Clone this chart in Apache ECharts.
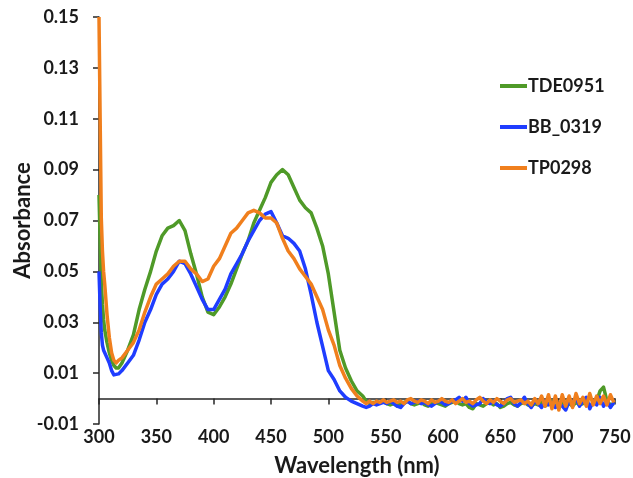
<!DOCTYPE html>
<html><head><meta charset="utf-8">
<script src="https://cdn.jsdelivr.net/npm/echarts@6/dist/echarts.min.js"></script>
<style>html,body{margin:0;padding:0;background:#fff}#c{width:633px;height:478px}</style>
</head><body><div id="c"></div>
<script>
const wavelengths = [300,301,302,303,304,305,307,309,311,313,315,317,
  320,325,330,335,340,345,350,355,360,365,370,375,380,385,390,395,400,405,410,415,420,425,430,435,440,445,450,455,460,465,470,475,480,485,490,495,500,505,510,515,520,525,
  530,533,536,539,542,545,548,551,554,557,560,563,566,569,572,575,578,581,584,587,590,593,596,599,602,605,608,611,614,617,620,623,626,629,632,635,638,641,644,647,650,653,656,659,662,665,668,671,674,677,680,683,686,689,692,695,698,701,704,707,710,713,716,719,722,725,728,731,734,737,740,743,746,749];

const tde0951 = [0.08,0.062,0.046,0.037,0.031,0.027,0.022,0.018,0.015,0.013,0.012,0.012,
  0.014,0.019,0.025,0.035,0.043,0.050,0.058,0.064,0.067,0.068,0.070,0.066,0.057,0.049,0.040,0.034,0.033,0.036,0.040,0.045,0.051,0.057,0.062,0.069,0.074,0.079,0.085,0.088,0.090,0.088,0.083,0.078,0.075,0.073,0.067,0.060,0.049,0.034,0.019,0.012,0.007,0.003,
  0.001,-0.001,-0.002,-0.0015,-0.002,-0.0015,-0.001,-0.002,-0.0025,-0.002,-0.003,-0.002,-0.0015,-0.001,-0.002,-0.0025,-0.002,-0.0015,-0.0025,-0.003,-0.002,-0.0015,-0.002,-0.0025,-0.003,-0.002,-0.0015,-0.001,-0.002,-0.0025,-0.002,-0.0035,-0.004,-0.002,-0.0025,-0.003,-0.002,-0.0015,-0.0025,-0.002,-0.0035,-0.003,-0.002,-0.0015,-0.0025,-0.003,-0.002,-0.0015,-0.0025,-0.003,-0.002,-0.0025,-0.0015,-0.003,-0.002,-0.001,-0.003,-0.002,-0.0015,-0.0025,-0.002,-0.003,-0.0015,-0.0025,-0.002,-0.001,-0.003,-0.002,-0.001,0.003,0.0045,-0.001,-0.0025,-0.002];

const bb0319 = [0.05,0.036,0.026,0.021,0.019,0.018,0.016,0.014,0.011,0.0093,0.0095,0.0097,
  0.011,0.014,0.017,0.023,0.030,0.035,0.041,0.045,0.047,0.050,0.054,0.053,0.049,0.044,0.039,0.035,0.035,0.039,0.043,0.049,0.053,0.057,0.062,0.066,0.070,0.0725,0.0735,0.069,0.064,0.063,0.061,0.058,0.051,0.041,0.030,0.0205,0.011,0.0075,0.003,0.0005,-0.001,-0.002,
  -0.003,-0.0035,-0.003,-0.002,-0.0025,-0.002,-0.0015,-0.002,-0.001,-0.002,-0.003,-0.0035,-0.002,-0.001,-0.002,-0.0015,-0.001,-0.002,-0.0015,-0.0025,-0.003,-0.002,-0.001,-0.0015,-0.0025,-0.002,-0.001,-0.0005,0.0005,-0.001,0.0005,-0.002,-0.003,-0.0025,-0.002,0.0,-0.0015,-0.002,-0.001,-0.0025,-0.003,-0.002,0.0,0.0005,-0.002,-0.003,-0.0015,0.0005,-0.002,-0.0035,-0.001,-0.002,-0.0035,-0.001,-0.0025,-0.0015,-0.0035,-0.002,-0.003,-0.0045,-0.001,-0.002,0.0005,-0.003,-0.001,0.0005,-0.004,-0.001,-0.0025,0.0005,-0.003,-0.001,-0.0035,-0.0015];

const tp0298 = [0.15,0.11,0.071,0.058,0.050,0.045,0.033,0.024,0.018,0.015,0.014,0.015,
  0.016,0.019,0.022,0.027,0.034,0.040,0.045,0.047,0.049,0.052,0.054,0.054,0.051,0.049,0.046,0.047,0.052,0.055,0.060,0.065,0.067,0.070,0.073,0.074,0.073,0.071,0.071,0.069,0.063,0.058,0.055,0.051,0.048,0.045,0.040,0.035,0.027,0.021,0.013,0.008,0.004,0.001,
  -0.001,-0.002,-0.001,-0.002,-0.001,-0.0015,-0.0005,-0.0015,-0.001,-0.0005,-0.0015,-0.001,-0.002,-0.0005,0.0,-0.001,-0.0015,-0.0005,-0.001,-0.002,-0.0005,-0.0015,-0.001,0.0,-0.001,-0.0015,-0.0005,-0.002,-0.001,0.0,-0.0015,-0.001,-0.002,-0.0005,0.0005,-0.001,-0.002,-0.0005,-0.0015,0.0,-0.001,-0.002,-0.0005,0.0,-0.0015,-0.001,-0.0005,-0.002,-0.001,-0.0025,0.0,-0.002,0.001,-0.003,0.0015,-0.004,0.001,-0.0045,0.0015,-0.003,0.001,-0.0035,0.002,-0.002,0.0005,-0.003,0.002,-0.0025,0.001,-0.002,0.001,-0.0025,0.0015,-0.0015];

const seriesNames = ['TDE0951','BB_0319','TP0298'];
const seriesColors = ['#4f9a28','#1f3dff','#f07f1d'];
const seriesValues = [tde0951, bb0319, tp0298];

const FONT = 'Lato';
const TXT = '#1a1a1a';
const AX = '#262626';

const chart = echarts.init(document.getElementById('c'), null, {renderer:'canvas'});
chart.setOption({
  animation:false,
  backgroundColor:'#fff',
  grid:{left:99,right:18,top:17,bottom:54, containLabel:false, outerBoundsMode:'none'},
  legend:{
    orient:'vertical', left:495, top:71, itemWidth:27, itemHeight:4, itemGap:21, icon:'rect',
    textStyle:{fontFamily:FONT, fontSize:18, fontWeight:'bold', color:TXT, lineHeight:20, padding:[0,0,0,-4]},
    data:seriesNames
  },
  xAxis:[
    {type:'value', min:300, max:750, interval:50, position:'bottom',
     axisLine:{show:false, onZero:false}, axisTick:{show:false}, splitLine:{show:false},
     axisLabel:{fontFamily:FONT, fontSize:18, fontWeight:'bold', color:TXT, margin:4},
     name:'Wavelength (nm)', nameLocation:'middle', nameGap:31, nameMoveOverlap:false,
     nameTextStyle:{fontFamily:FONT, fontSize:22, fontWeight:'bold', color:TXT}},
    {type:'value', min:300, max:750, interval:50, position:'bottom',
     axisLine:{show:true, onZero:true, lineStyle:{color:AX, width:1.5}},
     axisTick:{show:true, length:6, lineStyle:{color:AX, width:1.5}},
     axisLabel:{show:false}, splitLine:{show:false}}
  ],
  yAxis:{type:'value', min:-0.01, max:0.15, interval:0.02,
    axisLine:{show:true, lineStyle:{color:AX, width:1.5}},
    axisTick:{show:true, length:6, lineStyle:{color:AX, width:1.5}},
    splitLine:{show:false},
    axisLabel:{fontFamily:FONT, fontSize:18, fontWeight:'bold', color:TXT, margin:20,
      formatter:v=>(Math.round(v*100)/100).toFixed(2)},
    name:'Absorbance', nameLocation:'middle', nameGap:65, nameRotate:90, nameMoveOverlap:false,
    nameTextStyle:{fontFamily:FONT, fontSize:22, fontWeight:'bold', color:TXT}},
  series: seriesNames.map((n,k)=>({
    name:n, type:'line', xAxisIndex:0, yAxisIndex:0, showSymbol:false, symbol:'none',
    color:seriesColors[k],
    lineStyle:{width:3.5, color:seriesColors[k], join:'round'},
    data: wavelengths.map((w,i)=>[w, seriesValues[k][i]]),
    z: 2+k
  }))
});
</script></body></html>
